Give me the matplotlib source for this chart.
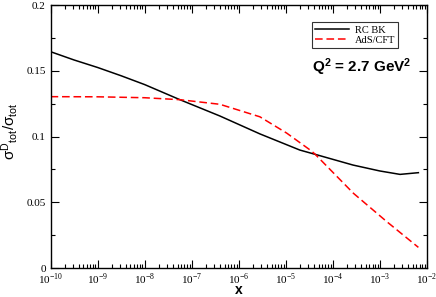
import numpy as np
import matplotlib
matplotlib.use('Agg')
from matplotlib import pyplot as plt
from matplotlib.ticker import FixedLocator, FuncFormatter, MultipleLocator

plt.rcParams['mathtext.fontset'] = 'custom'
plt.rcParams['mathtext.rm'] = 'Liberation Serif'
plt.rcParams['mathtext.sf'] = 'Liberation Sans'
plt.rcParams['mathtext.bf'] = 'Liberation Sans:bold'
plt.rcParams['font.family'] = 'Liberation Serif'

# log10(x) values
logx_bk = [-10, -9.5, -9.0, -8.5, -8.0, -7.25, -6.4, -5.55, -4.7, -4.38, -3.57, -3.0, -2.57, -2.18]
frac_bk = [0.1645, 0.1582, 0.1525, 0.1462, 0.1395, 0.128, 0.1156, 0.102, 0.0897, 0.0865, 0.0783, 0.0738, 0.0712, 0.0725]

logx_ads = [-10, -9, -8, -7.25, -6.4, -5.55, -4.98, -4.48, -4.38, -3.56, -2.85, -2.18]
frac_ads = [0.1303, 0.1302, 0.1295, 0.128, 0.1245, 0.115, 0.1026, 0.0897, 0.0867, 0.0568, 0.0352, 0.0157]

fig = plt.figure(figsize=(4.36, 2.97), dpi=100)
ax = fig.add_axes([0.116, 0.0976, 0.863, 0.8855])

ax.plot(10**np.array(logx_bk), frac_bk, color='black', lw=1.1, label='RC BK')
ax.plot(10**np.array(logx_ads), frac_ads, color='red', lw=1.1, dashes=(5, 2.5), label='AdS/CFT')

ax.set_xscale('log')
ax.set_xlim(1e-10, 1e-2)
ax.set_ylim(0, 0.2)

ax.xaxis.set_major_locator(FixedLocator([10.0**k for k in range(-10, -1)]))
ax.xaxis.set_major_formatter(FuncFormatter(lambda v, p: r'$10^{%d}$' % round(np.log10(v))))
minors = [m * 10.0**k for k in range(-10, -2) for m in range(2, 10)]
ax.xaxis.set_minor_locator(FixedLocator(minors))
ax.yaxis.set_major_locator(MultipleLocator(0.05))
ax.yaxis.set_minor_locator(MultipleLocator(0.025))
ax.yaxis.set_major_formatter(FuncFormatter(lambda v, p: '0' if v == 0 else ('%g' % v)))

ax.tick_params(which='both', direction='in', top=True, right=True, labelsize=8, width=0.8)
ax.tick_params(axis='x', which='major', pad=3)
ax.tick_params(which='major', length=6)
ax.tick_params(which='minor', length=3)
for s in ax.spines.values():
    s.set_linewidth(1.0)

fig.text(0.547, 0.0, 'x', fontfamily='Liberation Sans', fontweight='bold', fontsize=10,
         ha='center', va='bottom')
ax.set_ylabel(r'$\mathsf{\sigma^{D}{}_{tot}/\sigma_{tot}}$', fontsize=11)
ax.yaxis.set_label_coords(-0.082, 0.52)

ax.text(0.696, 0.745, r'Q$\mathbf{^{2}}$ = 2.7 GeV$\mathbf{^{2}}$', transform=ax.transAxes,
        fontsize=11, fontfamily='Liberation Sans', fontweight='bold')

leg = ax.legend(loc='upper left', bbox_to_anchor=(0.695, 0.935), fontsize=7.5, frameon=True,
                fancybox=False, edgecolor='black', handlelength=3.2, borderpad=0.3,
                labelspacing=0.1, handletextpad=0.6, borderaxespad=0)
leg.get_frame().set_linewidth(0.8)

fig.savefig('out.png', dpi=100)
